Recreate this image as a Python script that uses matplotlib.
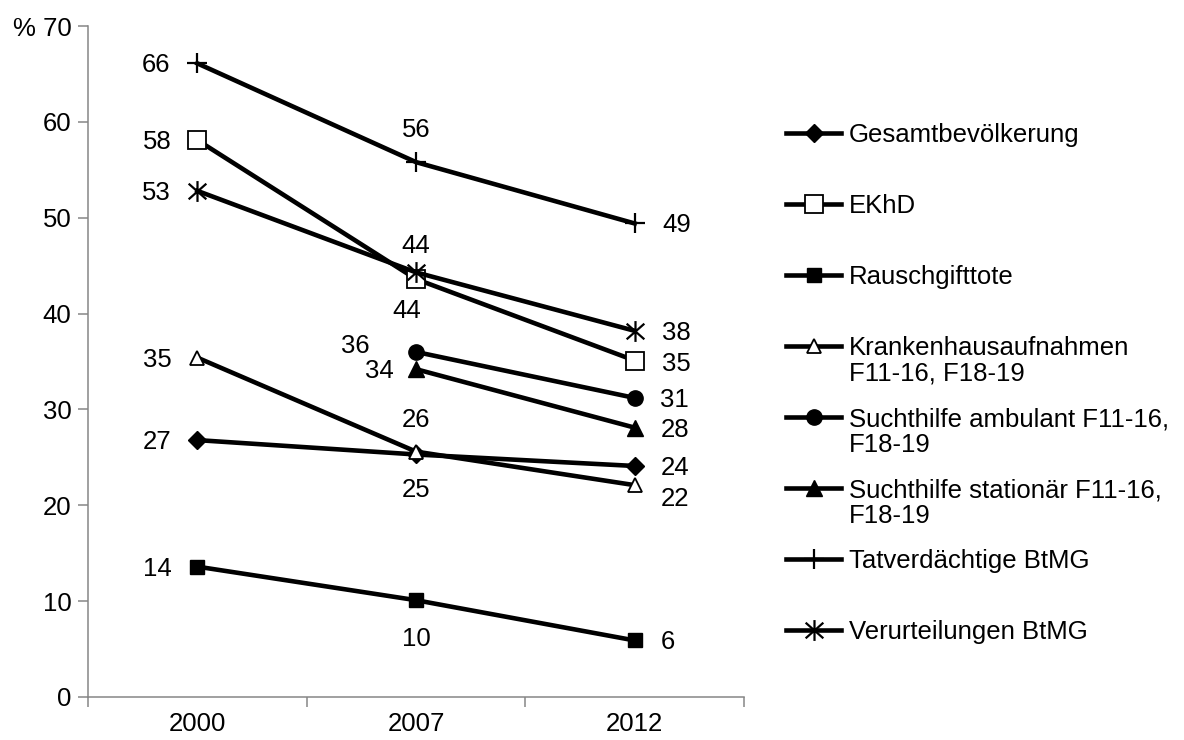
import numpy as np
import matplotlib
matplotlib.use("Agg")
import matplotlib.pyplot as plt
from matplotlib.lines import Line2D
from matplotlib.path import Path

plt.rcParams["font.family"] = ["Liberation Sans", "DejaVu Sans"]

years = ["2000", "2007", "2012"]

series_names = [
    "Gesamtbevölkerung",
    "EKhD",
    "Rauschgifttote",
    "Krankenhausaufnahmen\nF11-16, F18-19",
    "Suchthilfe ambulant F11-16,\nF18-19",
    "Suchthilfe stationär F11-16,\nF18-19",
    "Tatverdächtige BtMG",
    "Verurteilungen BtMG",
]

gesamt = [26.8, 25.3, 24.1]
ekhd = [58.1, 43.6, 35.1]
rauschgifttote = [13.6, 10.1, 5.9]
krankenhaus = [35.4, 25.6, 22.1]
suchthilfe_amb = [np.nan, 36.0, 31.2]
suchthilfe_stat = [np.nan, 34.2, 28.1]
tatverdaechtige = [66.1, 55.8, 49.4]
verurteilungen = [52.8, 44.3, 38.2]

values = [gesamt, ekhd, rauschgifttote, krankenhaus,
          suchthilfe_amb, suchthilfe_stat, tatverdaechtige, verurteilungen]

# asterisk: vertical bar plus two diagonals
asterisk = Path(
    [(0, -1), (0, 1), (-0.85, -0.75), (0.85, 0.75), (-0.85, 0.75), (0.85, -0.75)],
    [Path.MOVETO, Path.LINETO, Path.MOVETO, Path.LINETO, Path.MOVETO, Path.LINETO],
)

styles = [
    dict(marker="D", ms=9, mfc="black", mew=1.0),
    dict(marker="s", ms=13.5, mfc="white", mew=1.3),
    dict(marker="s", ms=10, mfc="black", mew=1.0),
    dict(marker="^", ms=9.5, mfc="white", mew=1.3),
    dict(marker="o", ms=11, mfc="black", mew=1.0),
    dict(marker="^", ms=11.5, mfc="black", mew=1.0),
    dict(marker="+", ms=15, mfc="none", mew=1.6),
    dict(marker=asterisk, ms=15, mfc="none", mew=1.6),
]

# label offsets in pixels (dx, dy) for each point
label_offsets = [
    [(-40, 0), (0, -34), (40, 0)],
    [(-40, 0), (-9, -30), (42, -1)],
    [(-40, 0), (0, -37), (33, 0)],
    [(-40, 0), (0, 34), (40, -12)],
    [None, (-61, 8), (40, 0)],
    [None, (-37, 0), (40, 0)],
    [(-41, 0), (0, 34), (42, 0)],
    [(-41, 0), (0, 28), (42, 0)],
]

FS = 18.5
LW = 3.3
GRAY = "#868686"

fig = plt.figure(figsize=(11.84, 7.4), dpi=100)
ax = fig.add_axes([88 / 1184, 1 - 697 / 740, 656 / 1184, 671 / 740])

x = np.arange(len(years))
for vals, st, offs in zip(values, styles, label_offsets):
    ax.plot(x, vals, color="black", lw=LW, mec="black", zorder=3, **st)
    for xi, v, off in zip(x, vals, offs):
        if off is None or np.isnan(v):
            continue
        ax.annotate(f"{v:.0f}", (xi, v), xytext=(off[0], off[1] - 2),
                    textcoords="offset pixels", ha="center", va="center",
                    fontsize=FS, zorder=4)

ax.set_xlim(-0.5, 2.5)
ax.set_ylim(0, 70)
ax.set_yticks(range(0, 71, 10))
ax.set_yticklabels([f"% {v}" if v == 70 else str(v) for v in range(0, 71, 10)])
ax.set_xticks([-0.5, 0.5, 1.5, 2.5])
ax.set_xticklabels([])
ax.set_xticks(x, minor=True)
ax.set_xticklabels(years, minor=True)
ax.tick_params(axis="x", which="major", length=7, width=1.1, color=GRAY)
ax.tick_params(axis="x", which="minor", length=0, pad=11, labelsize=FS)
ax.tick_params(axis="y", length=7, width=1.1, color=GRAY, pad=5, labelsize=FS)
for side in ("top", "right"):
    ax.spines[side].set_visible(False)
for side in ("left", "bottom"):
    ax.spines[side].set_color(GRAY)
    ax.spines[side].set_linewidth(1.1)

# legend drawn row by row, handle aligned with the first text line
W, H = 1184, 740
row_y0, row_step = 133, 71
for i, (name, st) in enumerate(zip(series_names, styles)):
    yp = 1 - (row_y0 + i * row_step) / H
    fig.add_artist(Line2D([786 / W, 841 / W], [yp, yp], color="black", lw=LW,
                          transform=fig.transFigure))
    fig.add_artist(Line2D([813.5 / W], [yp], color="black", mec="black",
                          transform=fig.transFigure, **st))
    fig.text(849 / W, yp + 10 / H, name, ha="left", va="top", fontsize=FS,
             linespacing=1.1)

fig.savefig("out.png", dpi=100)
